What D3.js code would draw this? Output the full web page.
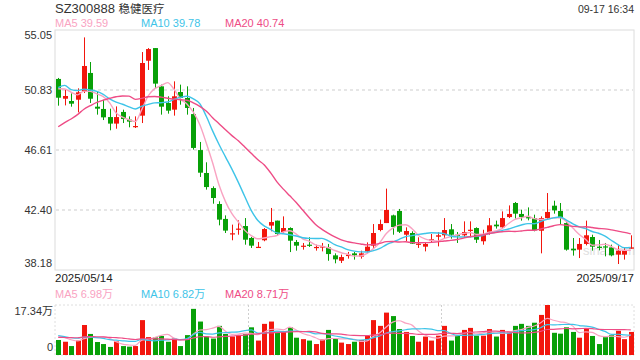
<!DOCTYPE html>
<meta charset="utf-8">
<style>
  body { margin: 0; background: #fff; }
  svg text { font-family: "Liberation Sans", Arial, "Noto Sans CJK SC", sans-serif; }
</style>
<svg width="640" height="360"></svg>
<script src="https://d3js.org/d3.v7.min.js"></script>
<script>

var code = "SZ300888",
    stockName = "稳健医疗",
    stamp = "09-17 16:34",
    startLabel = "2025/05/14",
    endLabel = "2025/09/17";

// daily candles, 2025/05/14 .. 2025/09/17
var opens = [51.61,50.22,50.06,50.15,50.74,52.03,49.66,49.50,48.93,48.47,
  49.29,48.75,48.26,49.03,52.89,53.78,51.09,49.92,49.45,50.69,
  50.27,49.14,46.61,45.00,43.94,42.82,41.77,40.69,41.01,41.27,
  40.43,39.79,40.27,41.30,41.65,40.85,41.13,40.15,39.82,39.96,
  39.73,39.77,39.77,39.21,38.83,39.16,39.35,39.12,39.49,39.89,
  40.99,41.48,42.02,42.33,40.66,40.78,39.96,39.82,40.27,40.52,
  40.62,41.04,40.66,40.62,40.94,41.13,40.20,40.85,41.37,41.18,
  41.90,42.89,42.12,41.90,41.83,40.94,41.83,42.70,42.33,41.48,
  39.68,39.61,40.01,40.50,39.82,39.84,39.77,39.26,39.26,39.68];

var closes = [50.29,50.41,49.87,50.67,52.52,50.22,49.52,48.91,48.47,48.93,
  48.79,48.61,48.30,52.73,53.71,51.28,49.66,49.38,50.39,50.27,
  49.57,46.76,45.02,44.01,43.24,41.72,40.95,40.76,41.09,40.31,
  39.89,39.81,41.06,41.55,40.71,41.13,40.24,39.89,39.89,39.89,
  39.80,39.84,39.30,38.93,39.09,39.26,39.21,39.35,39.82,40.78,
  41.41,42.40,41.20,40.87,40.92,40.03,40.03,40.01,40.34,40.62,
  40.99,40.66,40.59,40.85,41.01,40.31,40.71,41.32,41.25,41.83,
  42.12,42.14,41.90,41.81,40.97,41.83,42.26,42.37,41.83,39.61,
  39.56,40.01,40.62,39.82,39.73,39.77,39.21,39.54,39.54,39.77];

var highs = [51.68,50.90,50.60,50.95,54.53,52.80,50.74,50.15,49.52,49.68,
  49.45,48.98,48.98,53.50,53.78,53.78,51.21,50.39,51.44,51.21,
  51.09,49.57,47.18,45.75,44.06,43.01,42.02,41.37,41.67,41.83,
  40.50,40.15,41.13,42.54,41.65,41.95,41.18,40.29,40.08,40.48,
  39.96,40.08,40.01,39.35,39.26,39.45,39.45,39.54,40.12,41.41,
  41.72,43.90,42.07,42.47,41.18,40.90,40.48,40.12,40.71,40.85,
  41.83,41.41,40.85,41.60,41.60,41.18,41.01,41.83,41.65,42.30,
  42.72,42.96,42.42,42.58,42.07,41.95,43.59,43.05,42.89,41.65,
  40.43,40.43,41.65,40.66,40.29,40.08,39.96,39.96,39.73,40.62];

var lows = [49.73,49.75,49.66,49.26,50.62,49.92,49.10,48.72,48.00,48.11,
  48.51,48.21,48.16,48.51,52.24,50.97,49.10,49.17,49.03,49.80,
  49.10,46.64,44.72,43.83,42.84,41.32,40.78,40.27,40.66,39.96,
  39.73,39.77,40.20,40.90,40.62,40.78,39.44,39.54,39.61,39.80,
  39.54,39.49,38.83,38.65,38.67,38.98,38.91,38.98,39.35,39.73,
  40.90,41.48,40.66,40.78,40.20,40.01,39.73,39.49,40.08,39.84,
  40.38,40.38,40.08,40.43,40.48,40.08,39.96,40.66,41.09,41.13,
  41.83,41.79,41.65,41.67,40.90,39.35,41.72,42.14,41.41,39.54,
  39.19,39.02,39.91,39.54,39.56,39.14,39.14,38.60,38.91,39.68];

// volume, 万
var volumes = [5.2,4.6,3.1,5.0,10.4,7.3,4.5,3.8,2.8,4.7,
  3.1,2.9,3.1,12.1,6.2,6.1,6.6,4.6,5.7,3.1,
  6.9,16.0,11.6,6.4,5.7,10.1,7.3,6.4,6.9,7.2,
  9.6,5.0,10.8,11.6,8.1,8.1,9.6,6.0,5.5,5.0,
  3.8,5.4,8.7,5.7,4.3,3.8,4.6,5.2,6.6,12.1,
  10.1,14.7,13.5,9.0,8.0,6.6,4.6,6.4,5.0,6.7,
  10.1,5.0,6.7,8.7,9.4,6.7,6.7,9.0,6.4,8.7,
  8.1,10.1,10.8,10.1,11.2,13.9,17.34,7.7,7.4,9.6,
  8.0,6.0,9.1,6.6,3.8,6.2,6.9,8.4,5.5,8.0];

// sessions before 05/14, only feed the moving averages
var priorCloses = [44.6,44.8,44.5,44.9,45.2,45.0,45.6,46.0,46.8,47.6,
  48.8,52.9,51.3,51.5,50.9,50.5,51.0,51.6,51.2];
var priorVolumes = [5.0,4.6,5.2,4.8,5.5,4.9,5.3,6.0,5.6,7.2,
  8.5,7.0,6.8,6.4,7.5,6.0,6.8,7.1,6.4];

var priceTicks = [38.18, 42.40, 46.61, 50.83, 55.05],
    volTicks = [0, 17.34];

var maPeriods = [5, 10, 20],
    maColors = ["#f9a3c2", "#3ec4e8", "#ee4c86"],
    priceMaText = ["39.59", "39.78", "40.74"],
    volMaText = ["6.98", "6.82", "8.71"];

var upColor = "#f2160d",
    downColor = "#08a008";

var svg = d3.select("svg"),
    left = 55, right = 634,
    pTop = 30, pBottom = 270,
    vTop = 305, vBottom = 355;

var n = closes.length;

var x = d3.scaleBand().domain(d3.range(n)).range([left, right]).paddingInner(0.26).paddingOuter(0.13);
var y = d3.scaleLinear().domain([priceTicks[0], priceTicks[priceTicks.length - 1]]).range([pBottom, pTop]);
var yv = d3.scaleLinear().domain([0, volTicks[1]]).range([vBottom, vTop]);

function cx(i) { return x(i) + x.bandwidth() / 2; }

function movingAvg(prior, vals, p) {
  var all = prior.concat(vals), off = prior.length;
  return vals.map(function(d, i) {
    return d3.mean(all.slice(off + i - p + 1, off + i + 1));
  });
}

// header
var head = svg.append("text").attr("x", left).attr("y", 13).attr("fill", "#333");
head.append("tspan").attr("font-size", 13).text(code + " ");
head.append("tspan").attr("font-size", 11.5).text(stockName);
svg.append("text").attr("x", right).attr("y", 13).attr("font-size", 10.5).attr("fill", "#333")
  .attr("text-anchor", "end").text(stamp);

var legendX = [left, 141, 225];
maPeriods.forEach(function(p, k) {
  svg.append("text").attr("x", legendX[k]).attr("y", 27).attr("font-size", 11).attr("fill", maColors[k])
    .text("MA" + p + " " + priceMaText[k]);
  svg.append("text").attr("x", legendX[k]).attr("y", 298).attr("font-size", 11).attr("fill", maColors[k])
    .text("MA" + p + " " + volMaText[k] + "万");
});

// price panel frame + grid
svg.append("rect").attr("x", left).attr("y", pTop).attr("width", right - left).attr("height", pBottom - pTop)
  .attr("fill", "none").attr("stroke", "#dcdcdc");

priceTicks.slice(1, -1).forEach(function(t) {
  svg.append("line").attr("x1", left + 1).attr("x2", right - 1)
    .attr("y1", Math.round(y(t))).attr("y2", Math.round(y(t)))
    .attr("stroke", "#e6e6e6").attr("stroke-width", 2).attr("stroke-dasharray", "3,3");
});

priceTicks.forEach(function(t, k) {
  var dy = k === 0 ? -3 : (k === priceTicks.length - 1 ? 9 : 4);
  svg.append("text").attr("x", 52).attr("y", y(t) + dy).attr("font-size", 11).attr("fill", "#333")
    .attr("text-anchor", "end").text(t.toFixed(2));
});

svg.append("text").attr("x", left).attr("y", 282).attr("font-size", 11.5).attr("fill", "#222").text(startLabel);
svg.append("text").attr("x", right).attr("y", 282).attr("font-size", 11.5).attr("fill", "#222")
  .attr("text-anchor", "end").text(endLabel);

svg.append("text").attr("x", 583).attr("y", 255).attr("font-size", 13).attr("fill", "#d8d8d8")
  .attr("opacity", 0.8).text("sina.com");

// candles
var candles = d3.range(n).map(function(i) {
  return { i: i, o: opens[i], c: closes[i], h: highs[i], l: lows[i], v: volumes[i],
           up: closes[i] >= opens[i] };
});

var cg = svg.append("g");
cg.selectAll("line").data(candles).join("line")
  .attr("x1", function(d) { return Math.round(cx(d.i)) + 0.5; })
  .attr("x2", function(d) { return Math.round(cx(d.i)) + 0.5; })
  .attr("y1", function(d) { return y(d.h); })
  .attr("y2", function(d) { return y(d.l); })
  .attr("stroke", function(d) { return d.up ? upColor : downColor; });

cg.selectAll("rect").data(candles).join("rect")
  .attr("x", function(d) { return Math.round(cx(d.i)) + 0.5 - 2.5; })
  .attr("width", 5)
  .attr("y", function(d) { return y(Math.max(d.o, d.c)); })
  .attr("height", function(d) { return Math.max(1.2, Math.abs(y(d.o) - y(d.c))); })
  .attr("fill", function(d) { return d.up ? upColor : downColor; });

var line = d3.line().x(function(d, i) { return cx(i); }).curve(d3.curveMonotoneX);

maPeriods.forEach(function(p, k) {
  line.y(function(d) { return y(d); });
  svg.append("path").datum(movingAvg(priorCloses, closes, p))
    .attr("d", line).attr("fill", "none").attr("stroke", maColors[k]).attr("stroke-width", 1.4);
});

// volume panel
svg.append("rect").attr("x", left).attr("y", vTop).attr("width", right - left).attr("height", vBottom - vTop)
  .attr("fill", "none").attr("stroke", "#dedede").attr("stroke-dasharray", "2,2");

[1, 2].forEach(function(k) {
  var xx = Math.round(left + (right - left) * k / 3) + 0.5;
  svg.append("line").attr("x1", xx).attr("x2", xx).attr("y1", vTop).attr("y2", vBottom)
    .attr("stroke", "#cfcfcf").attr("stroke-dasharray", "2,2");
});

svg.append("text").attr("x", 53).attr("y", 315).attr("font-size", 11).attr("fill", "#333")
  .attr("text-anchor", "end").text(volTicks[1].toFixed(2) + "万");
svg.append("text").attr("x", 53).attr("y", 351).attr("font-size", 11).attr("fill", "#333")
  .attr("text-anchor", "end").text(volTicks[0]);

svg.append("g").selectAll("rect").data(candles).join("rect")
  .attr("x", function(d) { return Math.round(cx(d.i)) + 0.5 - 2.5; })
  .attr("width", 5)
  .attr("y", function(d) { return yv(d.v); })
  .attr("height", function(d) { return vBottom - yv(d.v); })
  .attr("fill", function(d) { return d.up ? upColor : downColor; });

maPeriods.forEach(function(p, k) {
  line.y(function(d) { return yv(d); });
  svg.append("path").datum(movingAvg(priorVolumes, volumes, p))
    .attr("d", line).attr("fill", "none").attr("stroke", maColors[k]).attr("stroke-width", 1.2);
});

</script>
